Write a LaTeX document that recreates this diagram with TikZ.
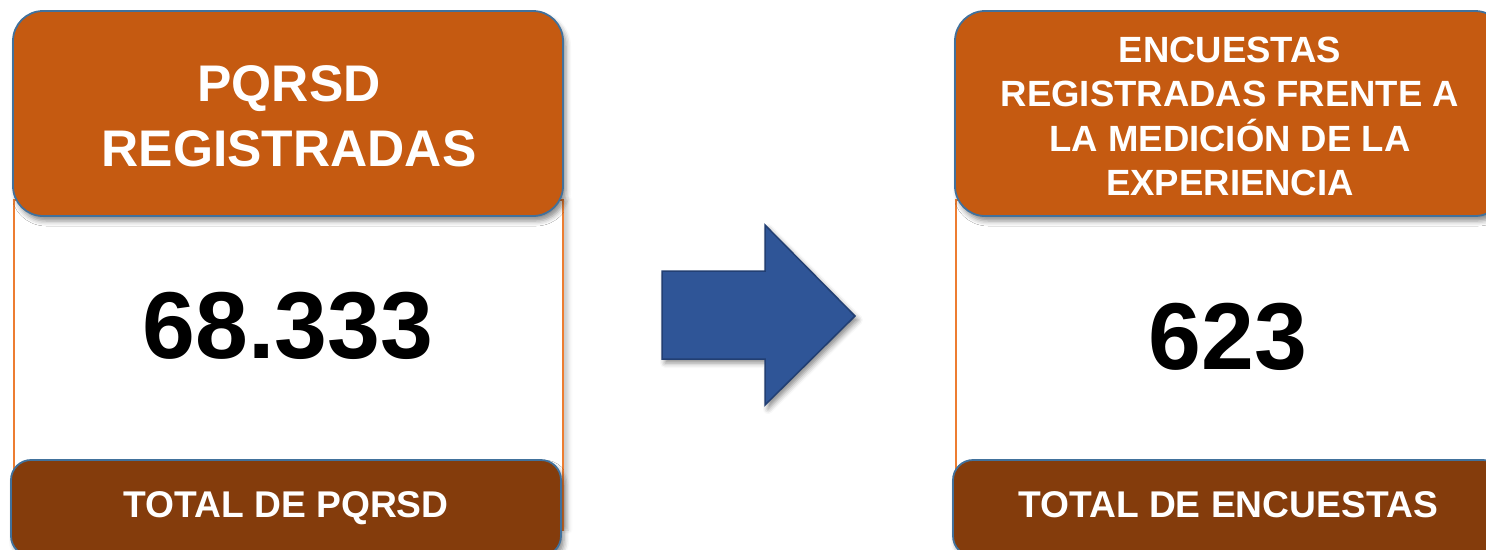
\documentclass[tikz,border=0pt]{standalone}
\usepackage{fontspec}
\setmainfont{Liberation Sans}
\usetikzlibrary{shadows.blur}
\definecolor{hdr}{HTML}{C55A11}
\definecolor{ftr}{HTML}{843C0C}
\definecolor{bord}{HTML}{41719C}
\definecolor{side}{HTML}{ED7D31}
\definecolor{arrowfill}{HTML}{2F5597}
\definecolor{arrowline}{HTML}{223F73}
\begin{document}
\begin{tikzpicture}[x=1pt,y=-1pt,
  frame/.style={draw=side, line width=2pt, fill=white, minimum width=549pt, minimum height=330pt, inner sep=0pt,
    blur shadow={shadow xshift=6pt, shadow yshift=0pt, shadow blur radius=4pt, shadow opacity=20}},
  hdrbox/.style={draw=bord, line width=1.8pt, fill=hdr, rounded corners=30pt, minimum width=550pt, minimum height=205pt,
    inner sep=0pt,
    blur shadow={shadow xshift=3pt, shadow yshift=-5pt, shadow blur radius=5pt, shadow opacity=45}},
  hdrtxt/.style={text=white, align=center, inner sep=0pt},
  ftrbox/.style={draw=bord, line width=1.8pt, fill=ftr, rounded corners=20pt, minimum width=550pt, minimum height=96pt,
    inner sep=0pt,
    blur shadow={shadow xshift=3pt, shadow yshift=-5pt, shadow blur radius=5pt, shadow opacity=45}},
  ftrtxt/.style={anchor=base, text=white, font=\bfseries\fontsize{37.2}{40}\selectfont, inner sep=0pt},
  numtxt/.style={anchor=base, text=black, font=\bfseries\fontsize{95}{100}\selectfont, inner sep=0pt}
]
\useasboundingbox (0,0) rectangle (1486,549);
\clip (0,0) rectangle (1486,549);
% left card
\node[frame] (lframe) at (288,365) {};
\node[hdrbox] (lhead) at (288,113.5) {};
\node[hdrtxt, font=\bfseries\fontsize{51.5}{65}\selectfont] (lheadtxt) at (289,116) {PQRSD\\REGISTRADAS};
\node[numtxt] (lnum) at (288,358) {68.333};
\node[ftrbox] (lfoot) at (286,508) {};
\node[ftrtxt] (lfoottxt) at (286,517) {TOTAL DE PQRSD};
% right card
\node[frame] (rframe) at (1230,365) {};
\node[hdrbox] (rhead) at (1230,113.5) {};
\node[hdrtxt, font=\bfseries\fontsize{36.5}{44.5}\selectfont] (rheadtxt) at (1230,116.5) {ENCUESTAS\\REGISTRADAS FRENTE A\\LA MEDICIÓN DE LA\\EXPERIENCIA};
\node[numtxt] (rnum) at (1228,369) {623};
\node[ftrbox] (rfoot) at (1228,508) {};
\node[ftrtxt] (rfoottxt) at (1228,517) {TOTAL DE ENCUESTAS};
% arrow
\draw[fill=arrowfill, draw=arrowline, line width=1.5pt, line join=miter,
  blur shadow={shadow xshift=3pt, shadow yshift=-4pt, shadow blur radius=5pt, shadow opacity=45}]
  (662,271) -- (765,271) -- (765,225) -- (855,316) -- (765,405) -- (765,359) -- (662,359) -- cycle;
\end{tikzpicture}
\end{document}
